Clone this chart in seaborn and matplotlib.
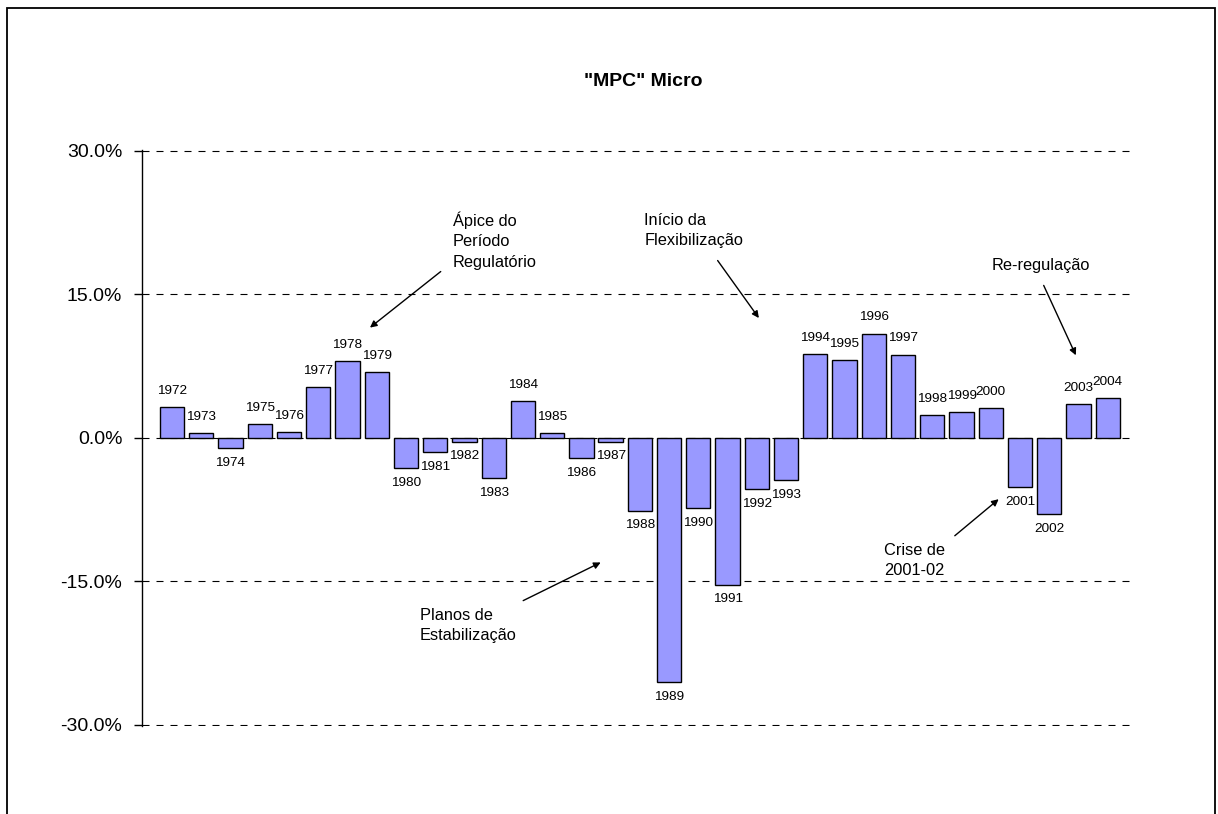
import matplotlib
matplotlib.use("Agg")
import matplotlib.pyplot as plt
import matplotlib.ticker as mticker
from matplotlib.patches import Rectangle
import seaborn as sns
import pandas as pd

# ---- data ----
years = [str(y) for y in range(1972, 2005)]
values = [3.2, 0.5, -1.1, 1.4, 0.6, 5.3, 8.0, 6.9, -3.2, -1.5, -0.4, -4.2,
          3.8, 0.5, -2.1, -0.4, -7.6, -25.5, -7.35, -15.35, -5.35, -4.4,
          8.75, 8.1, 10.9, 8.7, 2.4, 2.7, 3.1, -5.15, -8.0, 3.5, 4.15]
ytick_values = [-30, -15, 0, 15, 30]
title = '"MPC" Micro'
notes = ["Ápice do\nPeríodo\nRegulatório", "Início da\nFlexibilização",
         "Re-regulação", "Planos de\nEstabilização", "Crise de\n2001-02"]

df = pd.DataFrame({"ano": years, "valor": values})

sns.set_theme(style="white")
plt.rcParams["font.family"] = ["Liberation Sans", "DejaVu Sans"]
plt.rcParams["text.color"] = "black"
plt.rcParams["axes.labelcolor"] = "black"
plt.rcParams["ytick.color"] = "black"
plt.rcParams["xtick.color"] = "black"

fig = plt.figure(figsize=(12.18, 8.14), dpi=100)
ax = fig.add_axes([141.7 / 1218, 1 - 725.7 / 814, (1132 - 141.7) / 1218, (725.7 - 150) / 814])

sns.barplot(data=df, x="ano", y="valor", color="#9999FF", saturation=1,
            edgecolor="black", linewidth=1.0, width=0.83, ax=ax, zorder=3)

ax.set_ylim(-30.08, 30.08)
ax.set_xlim(-1.036, 32.83)
ax.set_yticks(ytick_values)
ax.yaxis.set_major_formatter(mticker.FuncFormatter(lambda v, p: f"{v:.1f}%"))
ax.tick_params(axis="y", labelsize=14, length=6, width=1, color="black",
               labelcolor="black", direction="out", pad=8, left=True)
ax.set_xticks([])
ax.set_xlabel("")
ax.set_ylabel("")
for s in ["top", "right", "bottom"]:
    ax.spines[s].set_visible(False)
ax.spines["left"].set_color("black")
ax.spines["left"].set_linewidth(1.0)
ax.set_axisbelow(True)
ax.yaxis.grid(True, color="black", linewidth=0.8, linestyle=(0, (6.3, 6.3)))
ax.xaxis.grid(False)

# year labels at bar ends
for i, (yr, v) in enumerate(zip(years, values)):
    off = 11.6 if v >= 0 else -10.6
    ax.annotate(yr, xy=(i, v), xytext=(0, off), textcoords="offset points",
                ha="center", va="center", fontsize=9.7, color="black",
                annotation_clip=False)

# title
fig.text(643 / 1218, 1 - 82 / 814, title, ha="center", va="center",
         fontsize=14, fontweight="bold", color="black")

# notes with arrows
note_layout = [
    dict(text=(9.60, 20.6), ha="left", start=(9.19, 17.38), end=(6.77, 11.52)),
    dict(text=(16.15, 21.7), ha="left", start=(18.66, 18.53), end=(20.07, 12.52)),
    dict(text=(29.72, 18.0), ha="center", start=(29.81, 15.93), end=(30.91, 8.63)),
    dict(text=(8.48, -19.56), ha="left", start=(12.01, -17.01), end=(14.66, -13.02)),
    dict(text=(24.34, -12.77), ha="left", start=(26.77, -10.23), end=(28.27, -6.41)),
]
for txt, lay in zip(notes, note_layout):
    ax.text(*lay["text"], txt, ha=lay["ha"], va="center", fontsize=11.8,
            linespacing=1.42, multialignment="left", clip_on=False, color="black")
    ax.annotate("", xy=lay["end"], xytext=lay["start"],
                arrowprops=dict(arrowstyle="-|>", color="black", lw=1.0,
                                mutation_scale=10, shrinkA=0, shrinkB=0),
                annotation_clip=False)

# outer frame
fig.patches.append(Rectangle((6.5 / 1218, -0.05), (1215 - 6.5) / 1218, 1.05 - 8 / 814,
                             transform=fig.transFigure, fill=False,
                             edgecolor="black", linewidth=1.3, clip_on=False))

fig.savefig("out.png", dpi=100, facecolor="white")
